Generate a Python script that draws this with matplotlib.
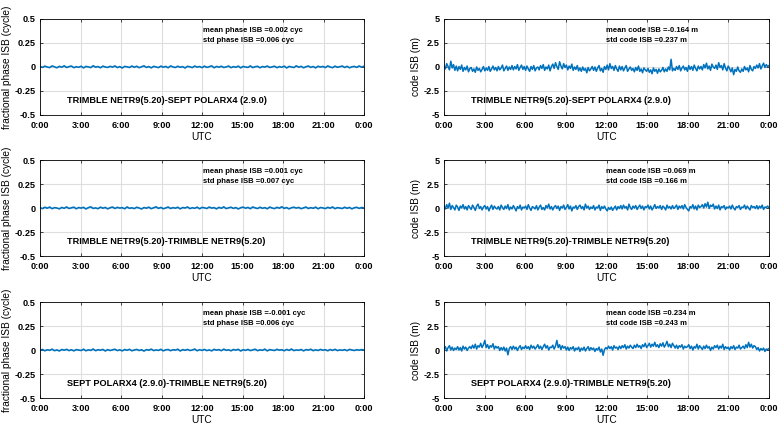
import numpy as np
import matplotlib
matplotlib.use('Agg')
import matplotlib.pyplot as plt

plt.rcParams['font.family'] = ['Liberation Sans', 'DejaVu Sans']
plt.rcParams['font.weight'] = 'bold'

# receiver pairs (one row each)
pair_labels = [
    'TRIMBLE NETR9(5.20)-SEPT POLARX4 (2.9.0)',
    'TRIMBLE NETR9(5.20)-TRIMBLE NETR9(5.20)',
    'SEPT POLARX4 (2.9.0)-TRIMBLE NETR9(5.20)',
]
phase_mean = ['0.002', '0.001', '-0.001']
phase_std = ['0.006', '0.007', '0.006']
code_mean = ['-0.164', '0.069', '0.234']
code_std = ['0.237', '0.166', '0.243']

tick_hours = [0, 3, 6, 9, 12, 15, 18, 21, 24]
tick_labels = ['0:00', '3:00', '6:00', '9:00', '12:00', '15:00', '18:00', '21:00', '0:00']

# fractional phase ISB (cycle), 10 min epochs
phase_isb_1 = [0.005, -0.004, 0.009, 0.000, -0.006, 0.011, 0.002, -0.008, 0.007, -0.002,
               0.012, -0.005, 0.004, 0.010, -0.007, 0.003, -0.003, 0.008, -0.009, 0.006,
               0.001, -0.006, 0.013, -0.002, 0.005, -0.008, 0.009, 0.000, -0.004, 0.007,
               -0.001, 0.011, -0.006, 0.004, -0.010, 0.006, 0.002, -0.005, 0.010, -0.003,
               0.008, -0.007, 0.003, 0.012, -0.004, 0.005, -0.009, 0.007, 0.000, -0.006,
               0.009, -0.002, 0.006, -0.008, 0.011, 0.001, -0.005, 0.008, -0.003, 0.004,
               -0.010, 0.007, 0.002, -0.006, 0.010, -0.001, 0.005, -0.007, 0.009, -0.004,
               0.003, 0.012, -0.008, 0.006, -0.002, 0.008, -0.005, 0.001, 0.010, -0.007,
               0.004, -0.003, 0.009, -0.009, 0.006, 0.000, -0.004, 0.011, -0.006, 0.003,
               0.007, -0.008, 0.005, -0.001, 0.010, -0.005, 0.002, 0.008, -0.007, 0.004,
               -0.003, 0.009, -0.010, 0.006, 0.001, -0.005, 0.012, -0.002, 0.007, -0.008,
               0.003, 0.010, -0.004, 0.005, -0.009, 0.008, -0.001, 0.006, -0.006, 0.011,
               0.000, -0.007, 0.009, -0.003, 0.004, 0.010, -0.005, 0.007, -0.008, 0.002,
               0.006, -0.004, 0.011, -0.002, 0.008]
phase_isb_2 = [0.003, -0.006, 0.008, -0.002, 0.010, -0.007, 0.004, 0.000, -0.009, 0.006,
               -0.003, 0.011, -0.005, 0.002, 0.009, -0.008, 0.005, -0.001, 0.007, -0.010,
               0.004, 0.012, -0.004, 0.001, -0.007, 0.009, -0.002, 0.006, -0.009, 0.003,
               0.010, -0.005, 0.007, -0.001, 0.004, -0.008, 0.011, -0.003, 0.002, -0.006,
               0.008, 0.000, -0.010, 0.005, -0.002, 0.009, -0.007, 0.003, 0.012, -0.004,
               0.006, -0.008, 0.001, 0.010, -0.005, 0.004, -0.002, 0.008, -0.009, 0.005,
               0.000, 0.011, -0.006, 0.003, -0.003, 0.009, -0.008, 0.006, 0.002, -0.005,
               0.010, -0.001, 0.004, -0.009, 0.007, -0.003, 0.012, -0.006, 0.002, 0.008,
               -0.004, 0.005, -0.010, 0.003, 0.009, -0.002, 0.006, -0.007, 0.011, 0.001,
               -0.005, 0.008, -0.003, 0.004, -0.008, 0.010, 0.000, -0.006, 0.007, -0.002,
               0.013, -0.004, 0.005, -0.009, 0.003, 0.008, -0.001, 0.006, -0.007, 0.002,
               0.010, -0.005, 0.004, -0.003, 0.009, -0.008, 0.005, 0.001, -0.006, 0.007,
               -0.002, 0.011, -0.007, 0.004, 0.000, -0.005, 0.008, -0.003, 0.006, -0.009,
               0.003, 0.007, -0.004, 0.005, 0.001]
phase_isb_3 = [-0.004, 0.006, -0.008, 0.002, -0.003, 0.009, -0.007, 0.001, -0.010, 0.005,
               -0.002, 0.007, -0.006, 0.003, -0.009, 0.004, 0.000, -0.005, 0.008, -0.008,
               0.002, -0.004, 0.010, -0.007, 0.003, -0.002, 0.006, -0.010, 0.004, -0.005,
               0.001, 0.008, -0.006, 0.002, -0.009, 0.005, -0.003, 0.007, -0.008, 0.000,
               0.006, -0.005, 0.003, -0.011, 0.004, -0.002, 0.009, -0.006, 0.001, -0.004,
               0.007, -0.009, 0.002, 0.005, -0.007, 0.003, -0.001, 0.008, -0.010, 0.004,
               -0.003, 0.006, -0.005, 0.000, 0.010, -0.008, 0.003, -0.004, 0.006, -0.006,
               0.001, -0.009, 0.007, -0.002, 0.004, -0.007, 0.009, -0.003, 0.002, -0.008,
               0.005, -0.001, 0.007, -0.010, 0.003, -0.004, 0.006, -0.006, 0.001, 0.008,
               -0.007, 0.002, -0.003, 0.009, -0.009, 0.004, 0.000, -0.005, 0.007, -0.002,
               0.003, -0.008, 0.006, -0.004, 0.010, -0.006, 0.001, -0.003, 0.005, -0.009,
               0.004, -0.001, 0.008, -0.007, 0.002, -0.005, 0.006, -0.002, 0.003, -0.008,
               0.005, -0.004, 0.007, -0.006, 0.001, -0.003, 0.004, -0.007, 0.006, 0.000,
               -0.005, 0.003, -0.002, 0.004, 0.000]

# code ISB (m), 6 min epochs (one row per hour)
code_isb_1 = [0.15, -0.20, 0.35, 0.05, -0.30, 0.60, -0.10, 0.25, -0.35, 0.10,
              -0.40, 0.05, -0.25, 0.20, -0.45, -0.05, -0.30, 0.10, -0.50, -0.15,
              -0.05, -0.45, -0.20, -0.55, 0.00, -0.35, -0.15, -0.50, -0.25, 0.05,
              -0.40, -0.10, -0.35, 0.05, -0.45, -0.20, 0.10, -0.30, -0.05, -0.40,
              0.05, -0.30, -0.10, 0.20, -0.40, -0.15, 0.10, -0.35, 0.00, -0.25,
              0.15, -0.30, 0.05, -0.20, 0.25, -0.35, -0.05, 0.20, -0.25, 0.05,
              -0.35, 0.10, -0.20, -0.45, 0.05, -0.25, 0.15, -0.40, -0.10, 0.00,
              -0.30, 0.15, -0.15, 0.25, -0.35, 0.00, -0.20, 0.20, -0.40, 0.05,
              0.30, -0.15, 0.45, 0.05, -0.25, 0.55, 0.10, -0.20, 0.35, -0.05,
              0.20, -0.30, 0.10, -0.15, 0.30, -0.35, 0.00, -0.25, 0.15, -0.40,
              -0.10, -0.45, 0.00, -0.35, -0.15, -0.60, -0.05, -0.40, -0.20, 0.05,
              -0.35, 0.00, -0.45, -0.10, 0.15, -0.40, -0.15, -0.55, 0.05, -0.25,
              0.20, -0.30, 0.35, -0.15, 0.05, -0.35, 0.15, -0.20, -0.45, 0.10,
              -0.30, 0.05, -0.40, -0.10, 0.15, -0.45, -0.20, 0.00, -0.35, -0.15,
              -0.50, -0.05, -0.35, 0.10, -0.45, -0.20, -0.60, -0.10, -0.30, -0.45,
              -0.15, -0.55, -0.30, -0.70, -0.10, -0.45, -0.25, -0.65, -0.20, -0.50,
              -0.35, -0.05, -0.50, -0.20, -0.45, 0.00, -0.30, 0.80, -0.40, -0.15,
              -0.35, 0.05, -0.25, 0.15, -0.40, -0.10, 0.10, -0.30, -0.05, -0.45,
              0.15, -0.25, 0.05, -0.35, 0.20, -0.15, -0.40, 0.10, -0.20, 0.05,
              -0.30, 0.25, -0.10, 0.40, -0.20, 0.10, -0.35, 0.30, 0.00, -0.15,
              0.20, -0.25, 0.45, -0.05, 0.15, -0.30, 0.35, -0.10, -0.40, 0.10,
              -0.15, -0.50, -0.10, -0.80, -0.25, -0.45, 0.00, -0.40, -0.55, -0.20,
              -0.45, 0.05, -0.30, -0.10, -0.50, 0.15, -0.25, -0.40, 0.05, -0.15,
              0.20, -0.10, 0.35, -0.20, 0.10, 0.40, -0.05, 0.25, 0.05, 0.15]
code_isb_2 = [0.20, -0.10, 0.35, 0.00, 0.50, -0.15, 0.25, 0.05, -0.20, 0.30,
              0.10, -0.25, 0.20, 0.00, 0.35, -0.10, 0.15, -0.20, 0.25, 0.05,
              -0.15, 0.30, 0.05, -0.25, 0.20, 0.40, -0.05, 0.15, -0.20, 0.10,
              0.25, -0.10, 0.15, -0.30, 0.05, 0.30, -0.15, 0.20, 0.00, -0.10,
              0.15, -0.20, 0.30, 0.05, -0.15, 0.20, -0.05, 0.35, -0.20, 0.10,
              -0.10, 0.25, 0.00, -0.30, 0.15, -0.05, 0.30, -0.20, 0.10, 0.00,
              0.20, -0.15, 0.35, 0.00, -0.25, 0.15, 0.05, -0.10, 0.25, -0.20,
              0.10, 0.30, -0.15, 0.05, -0.20, 0.25, 0.00, 0.40, -0.10, 0.15,
              -0.20, 0.10, 0.25, -0.05, 0.20, -0.25, 0.15, 0.00, 0.30, -0.15,
              0.05, 0.35, -0.10, 0.20, -0.30, 0.10, 0.00, 0.25, -0.15, 0.15,
              0.30, -0.05, 0.15, -0.20, 0.40, 0.00, 0.20, -0.15, 0.10, -0.05,
              0.25, -0.20, 0.10, 0.00, 0.30, -0.25, 0.15, -0.05, 0.20, -0.10,
              -0.30, 0.05, -0.15, 0.10, -0.25, 0.00, 0.20, -0.20, 0.15, -0.05,
              0.25, -0.10, 0.30, 0.00, 0.15, -0.20, 0.40, 0.05, -0.15, 0.20,
              0.00, 0.25, -0.15, 0.10, 0.30, -0.05, 0.20, -0.20, 0.15, 0.05,
              0.30, -0.10, 0.20, -0.20, 0.05, 0.35, -0.05, 0.15, 0.00, 0.25,
              -0.15, 0.20, 0.05, -0.20, 0.30, 0.00, 0.15, -0.10, 0.25, -0.05,
              0.10, 0.30, -0.15, 0.20, 0.00, 0.25, -0.10, 0.35, 0.05, -0.15,
              -0.30, 0.15, 0.00, 0.35, -0.10, 0.20, -0.20, 0.30, 0.05, 0.15,
              0.35, 0.00, 0.45, 0.10, 0.60, -0.05, 0.30, 0.15, 0.40, -0.10,
              0.20, -0.05, 0.30, -0.20, 0.15, 0.05, 0.25, -0.15, 0.10, 0.00,
              0.20, -0.10, 0.30, 0.00, -0.20, 0.15, 0.05, 0.25, -0.15, 0.10,
              0.05, 0.30, -0.10, 0.20, 0.00, -0.20, 0.25, 0.05, 0.15, -0.05,
              0.25, -0.10, 0.20, 0.00, 0.30, -0.15, 0.10, 0.05, 0.20, 0.00]
code_isb_3 = [0.10, 0.35, -0.10, 0.25, 0.45, 0.00, 0.30, -0.05, 0.20, 0.05,
              0.35, 0.00, 0.25, -0.10, 0.40, 0.10, 0.30, -0.05, 0.20, 0.35,
              0.15, 0.50, 0.20, 0.60, 0.10, 0.45, 0.30, 0.70, 0.25, 0.55,
              1.00, 0.25, 0.55, 0.15, 0.45, 0.30, 0.65, 0.10, 0.40, 0.20,
              0.35, -0.05, 0.25, 0.00, 0.30, -0.10, 0.20, -0.50, 0.15, 0.35,
              0.05, 0.40, 0.10, 0.30, -0.05, 0.25, 0.45, 0.05, 0.30, 0.15,
              0.45, 0.15, 0.35, 0.05, 0.50, 0.20, 0.40, 0.10, 0.30, 0.55,
              0.15, 0.40, 0.05, 0.35, 0.60, 0.20, 0.45, 0.00, 0.30, 0.25,
              0.50, 0.10, 0.40, 1.00, 0.25, 0.55, 0.05, 0.45, 0.20, 0.35,
              0.00, 0.30, -0.05, 0.25, 0.10, 0.35, -0.10, 0.20, 0.05, 0.30,
              -0.15, 0.20, 0.00, 0.30, -0.10, 0.15, 0.35, -0.05, 0.25, 0.05,
              0.20, -0.15, 0.15, 0.00, 0.30, -0.20, 0.10, -0.55, 0.05, 0.25,
              0.10, 0.40, 0.15, 0.35, 0.00, 0.45, 0.20, 0.30, 0.05, 0.40,
              0.15, 0.45, 0.25, 0.55, 0.10, 0.40, 0.20, 0.50, 0.30, 0.15,
              0.50, 0.25, 0.60, 0.30, 0.45, 0.15, 0.55, 0.35, 0.70, 0.25,
              0.45, 0.70, 0.30, 0.60, 0.40, 0.80, 0.35, 0.55, 0.25, 0.65,
              0.40, 0.75, 0.30, 0.55, 0.90, 0.35, 0.60, 0.25, 0.70, 0.45,
              0.20, 0.50, 0.15, 0.45, 0.30, 0.55, 0.10, 0.40, 0.25, 0.35,
              0.55, 0.15, 0.40, 0.00, 0.35, 0.20, 0.60, 0.10, 0.45, 0.25,
              0.05, 0.40, 0.15, 0.50, 0.20, 0.35, -0.05, 0.30, 0.10, 0.45,
              0.25, 0.50, 0.10, 0.40, 0.20, 0.60, 0.05, 0.35, 0.15, 0.30,
              0.00, 0.35, 0.15, 0.45, 0.05, 0.30, 0.20, 0.50, 0.10, 0.25,
              0.40, 0.15, 0.55, 0.25, 0.80, 0.30, 0.60, 0.20, 0.45, 0.35,
              0.05, 0.25, -0.10, 0.15, 0.00, 0.20, -0.15, 0.10, 0.05, 0.15]

phase_series = [phase_isb_1, phase_isb_2, phase_isb_3]
code_series = [code_isb_1, code_isb_2, code_isb_3]

line_color = '#0072BD'
grid_color = '#dedede'

fig = plt.figure(figsize=(7.78, 4.28), dpi=100)
W, H = 778, 428
row_top = [19, 160, 302]
ax_h = 96
col_left = [40, 444]
col_w = [324, 325]


def style_axes(ax, ylim, yticks, yticklabels, ylabel):
    ax.set_xlim(0, 24)
    ax.set_ylim(*ylim)
    ax.set_xticks(tick_hours)
    ax.set_xticklabels(tick_labels)
    ax.set_yticks(yticks)
    ax.set_yticklabels(yticklabels)
    ax.grid(True, color=grid_color, linewidth=0.8)
    ax.set_axisbelow(True)
    ax.tick_params(direction='in', length=2.5, width=0.5, labelsize=6.6,
                   top=True, right=True)
    ax.tick_params(axis='x', pad=4)
    ax.tick_params(axis='y', pad=3)
    for s in ax.spines.values():
        s.set_linewidth(0.6)
    ax.set_xlabel('UTC', fontsize=7.3, labelpad=2)
    ax.set_ylabel(ylabel, fontsize=7.3, labelpad=2)


for r in range(3):
    y0 = (H - row_top[r] - ax_h) / H
    # phase panel
    ax = fig.add_axes([col_left[0] / W, y0, col_w[0] / W, ax_h / H])
    p = phase_series[r]
    t = np.linspace(0, 24, len(p))
    ax.plot(t, p, color=line_color, linewidth=1.2)
    style_axes(ax, (-0.5, 0.5), [-0.5, -0.25, 0, 0.25, 0.5],
               ['-0.5', '-0.25', '0', '0.25', '0.5'], 'fractional phase ISB (cycle)')
    ax.text(0.503, 0.885, f'mean phase ISB ={phase_mean[r]} cyc', transform=ax.transAxes,
            fontsize=5.5, va='center')
    ax.text(0.503, 0.78, f'std phase ISB ={phase_std[r]} cyc', transform=ax.transAxes,
            fontsize=5.5, va='center')
    ax.text(0.083, 0.155, pair_labels[r], transform=ax.transAxes, fontsize=6.6, va='center')

    # code panel
    ax = fig.add_axes([col_left[1] / W, y0, col_w[1] / W, ax_h / H])
    c = code_series[r]
    t = np.linspace(0, 24, len(c))
    ax.plot(t, c, color=line_color, linewidth=1.1)
    style_axes(ax, (-5, 5), [-5, -2.5, 0, 2.5, 5],
               ['-5', '-2.5', '0', '2.5', '5'], 'code ISB (m)')
    ax.text(0.498, 0.885, f'mean code ISB ={code_mean[r]} m', transform=ax.transAxes,
            fontsize=5.5, va='center')
    ax.text(0.498, 0.78, f'std code ISB ={code_std[r]} m', transform=ax.transAxes,
            fontsize=5.5, va='center')
    ax.text(0.083, 0.155, pair_labels[r], transform=ax.transAxes, fontsize=6.6, va='center')

fig.savefig('out.png', dpi=100)
